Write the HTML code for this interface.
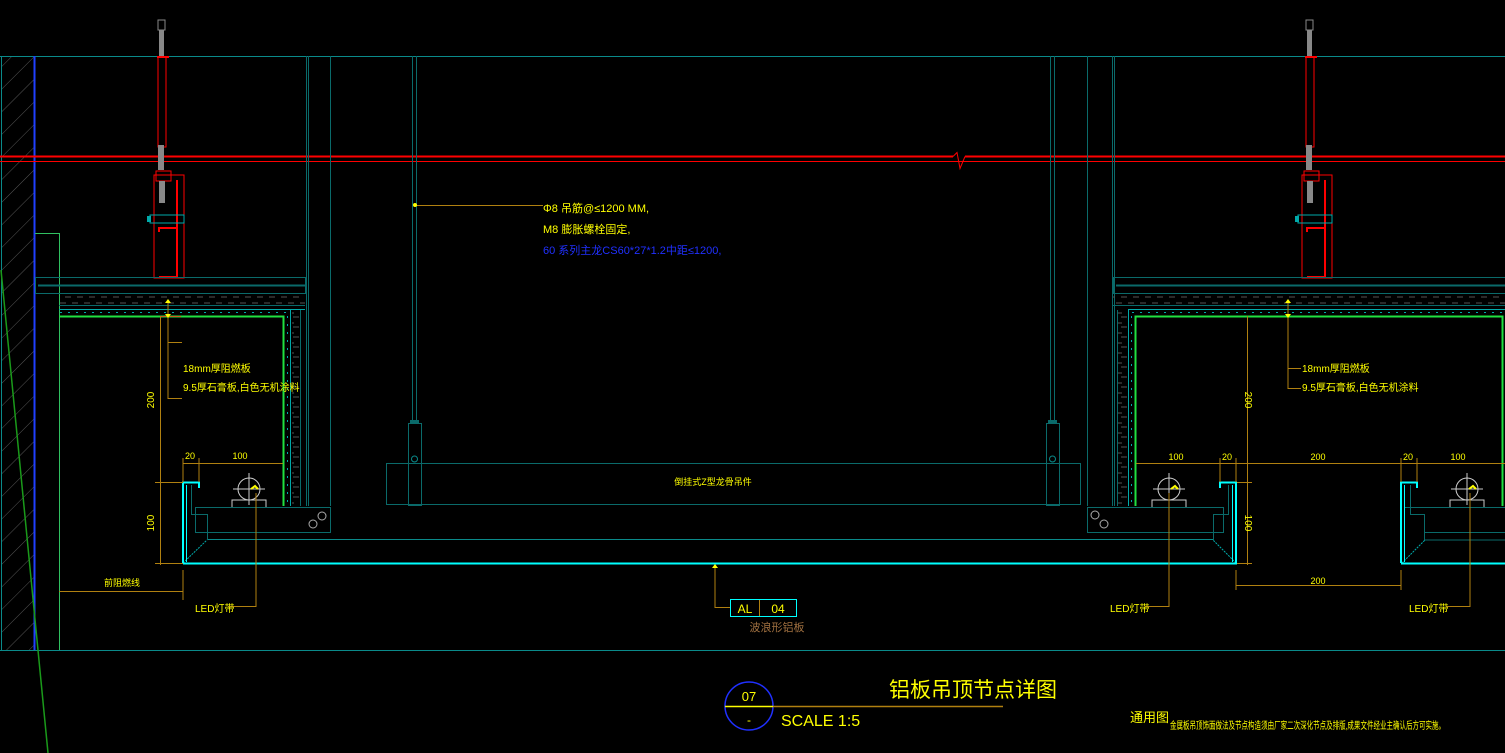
<!DOCTYPE html>
<html><head><meta charset="utf-8"><style>
html,body{margin:0;padding:0;background:#000;}
svg{display:block}
text{font-family:"Liberation Sans","Noto Sans CJK SC",sans-serif;}
</style></head><body>
<svg width="1505" height="753" viewBox="0 0 1505 753" xmlns="http://www.w3.org/2000/svg">
<defs>
<pattern id="hatch" width="16" height="16" patternUnits="userSpaceOnUse" patternTransform="rotate(45)">
<line x1="0" y1="0" x2="0" y2="16" stroke="#555" stroke-width="1"/>
</pattern>
<pattern id="lay" width="12" height="10" patternUnits="userSpaceOnUse">
<path d="M0 3 h6 M5 7 h6" stroke="#555" stroke-width="1"/>
</pattern>
<g id="hanger">
<rect x="-3" y="20" width="7" height="10" fill="none" stroke="#888"/>
<rect x="-2" y="30" width="5" height="26" fill="#888"/>
<rect x="-4" y="56" width="12" height="2" fill="#f00"/>
<rect x="-3" y="57" width="8" height="90" fill="none" stroke="#f00"/>
<rect x="-3" y="145" width="6" height="25" fill="#888"/>
<rect x="-5" y="171" width="15" height="10" fill="none" stroke="#f00"/>
<rect x="-2" y="181" width="6" height="22" fill="#888"/>
<rect x="-7" y="175" width="30" height="103" fill="none" stroke="#f00"/>
<rect x="-5" y="177" width="0" height="100" stroke="#f00"/>
<path d="M16 180 v97 h-18 M16 228 h-18 v4" fill="none" stroke="#f00" stroke-width="2"/>
<rect x="-11" y="215" width="34" height="8" fill="none" stroke="#0aa"/>
<rect x="-14" y="216" width="4" height="6" fill="#0aa"/>
</g>
<g id="lamp">
<circle cx="0" cy="0" r="11" fill="none" stroke="#ccc"/>
<path d="M-16 0 h32 M0 -16 v32" stroke="#ccc"/>
<path d="M-17 18 v-7 h34 v7" fill="none" stroke="#ccc"/>
<path d="M2 0 l4 -3 l3 3" fill="none" stroke="#ff0" stroke-width="2"/>
</g>
</defs>

<line x1="0" y1="56.5" x2="1505" y2="56.5" stroke="#0a8a8a"/>
<line x1="0" y1="650.5" x2="1505" y2="650.5" stroke="#0a8a8a"/>
<rect x="1.5" y="56.5" width="33" height="594" fill="url(#hatch)" stroke="#0a8a8a"/>
<line x1="34.5" y1="56" x2="34.5" y2="650" stroke="#2040ff" stroke-width="2"/>
<line x1="1" y1="270" x2="48" y2="753" stroke="#1a9a1a" stroke-width="1.5"/>
<path d="M35 233.5 H59.5 V650" fill="none" stroke="#30c060"/>

<line x1="0" y1="156.5" x2="953" y2="156.5" stroke="#f00" stroke-width="2"/>
<line x1="0" y1="161.5" x2="1505" y2="161.5" stroke="#f00"/>
<line x1="965" y1="156.5" x2="1505" y2="156.5" stroke="#f00" stroke-width="2"/>
<path d="M953 156.5 l4 -4 l3 16 l5 -12" fill="none" stroke="#f00"/>

<use href="#hanger" x="161" y="0"/>
<use href="#hanger" x="1309" y="0"/>

<g stroke="#0a6a6a" fill="none">
<rect x="35.5" y="277.5" width="270" height="16"/>
<line x1="38" y1="285.5" x2="305" y2="285.5" stroke-width="2"/>
<line x1="59" y1="309.5" x2="305" y2="309.5" stroke="#0aa"/>
<line x1="59" y1="305.5" x2="305" y2="305.5"/>
<line x1="306.5" y1="56" x2="306.5" y2="506"/>
<line x1="308.5" y1="56" x2="308.5" y2="506"/>
<line x1="330.5" y1="56" x2="330.5" y2="506"/>
<line x1="290.5" y1="310" x2="290.5" y2="506" stroke="#0aa"/>
<line x1="300.5" y1="310" x2="300.5" y2="506"/>
</g>
<rect x="59" y="295" width="246" height="10" fill="url(#lay)"/>
<rect x="292" y="310" width="8" height="196" fill="url(#lay)"/>
<path d="M59 316.5 H283.5 V506" fill="none" stroke="#20e040" stroke-width="2"/>
<line x1="287.5" y1="316" x2="287.5" y2="506" stroke="#0aa" stroke-dasharray="2 6"/>
<line x1="60" y1="312.5" x2="288" y2="312.5" stroke="#0aa" stroke-dasharray="2 6"/>

<g stroke="#0a6a6a" fill="none">
<rect x="1113.5" y="277.5" width="395" height="16"/>
<line x1="1116" y1="285.5" x2="1505" y2="285.5" stroke-width="2"/>
<line x1="1128" y1="309.5" x2="1505" y2="309.5" stroke="#0aa"/>
<line x1="1113" y1="305.5" x2="1505" y2="305.5"/>
<line x1="1087.5" y1="56" x2="1087.5" y2="506"/>
<line x1="1112.5" y1="56" x2="1112.5" y2="506"/>
<line x1="1114.5" y1="56" x2="1114.5" y2="506"/>
<line x1="1128.5" y1="310" x2="1128.5" y2="506" stroke="#0aa"/>
<line x1="1117.5" y1="310" x2="1117.5" y2="506"/>
</g>
<rect x="1113" y="295" width="392" height="10" fill="url(#lay)"/>
<rect x="1118" y="310" width="10" height="196" fill="url(#lay)"/>
<path d="M1135.5 506 V316.5 H1502.5 V506" fill="none" stroke="#20e040" stroke-width="2"/>
<line x1="1131.5" y1="316" x2="1131.5" y2="506" stroke="#0aa" stroke-dasharray="2 6"/>
<line x1="1132" y1="312.5" x2="1505" y2="312.5" stroke="#0aa" stroke-dasharray="2 6"/>

<g stroke="#0a6a6a" fill="none">
<line x1="412.5" y1="56" x2="412.5" y2="420"/>
<line x1="416.5" y1="56" x2="416.5" y2="420"/>
<line x1="1050.5" y1="56" x2="1050.5" y2="420"/>
<line x1="1054.5" y1="56" x2="1054.5" y2="420"/>
<rect x="408.5" y="423.5" width="13" height="82"/>
<rect x="1046.5" y="423.5" width="13" height="82"/>
<rect x="386.5" y="463.5" width="694" height="41"/>
<rect x="195.5" y="507.5" width="135" height="25"/>
<rect x="1087.5" y="507.5" width="136" height="25"/>
<line x1="207" y1="539.5" x2="1213" y2="539.5" stroke="#0a8a8a"/>
<path d="M191.5 485 V514.5 H207.5 V540" />
<path d="M1228.5 485 V514.5 H1213.5 V540" />
<path d="M1410.5 485 V514.5 H1424.5 V540 H1505" />
<path d="M199 507.5 H330 M1087 507.5 H1224 M1404 507.5 H1505 M1424 532.5 H1505"/>
</g>
<rect x="410" y="420" width="9" height="4" fill="#0a6a6a"/>
<rect x="1048" y="420" width="9" height="4" fill="#0a6a6a"/>
<circle cx="414.5" cy="459" r="3" fill="none" stroke="#0a8a8a"/>
<circle cx="1052.5" cy="459" r="3" fill="none" stroke="#0a8a8a"/>
<line x1="183" y1="563" x2="207" y2="540" stroke="#0aa" stroke-dasharray="2 1"/>
<line x1="1236" y1="563" x2="1213" y2="540" stroke="#0aa" stroke-dasharray="2 1"/>
<line x1="1402" y1="563" x2="1425" y2="540" stroke="#0aa" stroke-dasharray="2 1"/>
<g fill="none" stroke="#aaa"><circle cx="313" cy="524" r="4"/><circle cx="322" cy="516" r="4"/><circle cx="1095" cy="515" r="4"/><circle cx="1104" cy="524" r="4"/></g>

<path d="M183 563 V482.5 H199 V488 M183 563.5 H1236 V482.5 H1220 V488" fill="none" stroke="#0ff" stroke-width="2"/>
<line x1="186.5" y1="485" x2="186.5" y2="562" stroke="#0ff"/>
<line x1="1232.5" y1="485" x2="1232.5" y2="562" stroke="#0ff"/>
<path d="M1401 563 V482.5 H1417 V488 M1401 563.5 H1505" fill="none" stroke="#0ff" stroke-width="2"/>
<line x1="1404.5" y1="485" x2="1404.5" y2="562" stroke="#0ff"/>

<use href="#lamp" x="249" y="489"/>
<use href="#lamp" x="1169" y="489"/>
<use href="#lamp" x="1467" y="489"/>

<g stroke="#b08010" fill="none">
<line x1="160.5" y1="316" x2="160.5" y2="565"/>
<path d="M155 482.5 H183 M155 563.5 H183"/>
<line x1="160" y1="316.5" x2="181" y2="316.5" stroke="#d06020"/>
<path d="M168 300 V398.5 H182 M168 342.5 H182"/>
<path d="M183 458 V482 M199 458 V482 M183 463.5 H283"/>
<line x1="59" y1="591.5" x2="183" y2="591.5"/>
<line x1="183" y1="570" x2="183" y2="600"/>
<path d="M256 493 V606.5 H228"/>
<path d="M1247.5 316 V565 M1237 482.5 H1252 M1237 563.5 H1252"/>
<path d="M1288 300 V388.5 H1301 M1288 368.5 H1301"/>
<path d="M1136 463.5 H1505 M1220 458 V482 M1236 458 V482 M1401 458 V482 M1417 458 V482"/>
<path d="M1236 570 V590 M1401 570 V590 M1236 585.5 H1401"/>
<path d="M1169 493 V606.5 H1145 M1470 493 V606.5 H1446"/>
<path d="M415 205.5 H543"/>
<path d="M715 567 V607.5 H730"/>
</g>
<g fill="#ff0">
<path d="M165 303 l3 -4 l3 4z M165 314 l3 4 l3 -4z M1285 303 l3 -4 l3 4z M1285 314 l3 4 l3 -4z M712 568 l3 -4 l3 4z"/>
<circle cx="415" cy="205" r="2"/>
</g>

<g fill="#ff0" font-size="10">
<text x="183" y="372">18mm厚阻燃板</text>
<text x="183" y="391">9.5厚石膏板,白色无机涂料</text>
<text x="1302" y="372">18mm厚阻燃板</text>
<text x="1302" y="391">9.5厚石膏板,白色无机涂料</text>
<text x="154" y="400" transform="rotate(-90 154 400)" text-anchor="middle">200</text>
<text x="154" y="523" transform="rotate(-90 154 523)" text-anchor="middle">100</text>
<text x="1245" y="400" transform="rotate(90 1245 400)" text-anchor="middle">200</text>
<text x="1245" y="523" transform="rotate(90 1245 523)" text-anchor="middle">100</text>
<text x="190" y="459" font-size="9" text-anchor="middle">20</text>
<text x="240" y="459" font-size="9" text-anchor="middle">100</text>
<text x="1176" y="460" font-size="9" text-anchor="middle">100</text>
<text x="1227" y="460" font-size="9" text-anchor="middle">20</text>
<text x="1318" y="460" font-size="9" text-anchor="middle">200</text>
<text x="1408" y="460" font-size="9" text-anchor="middle">20</text>
<text x="1458" y="460" font-size="9" text-anchor="middle">100</text>
<text x="1318" y="584" font-size="9" text-anchor="middle">200</text>
<text x="122" y="586" font-size="9" text-anchor="middle">前阻燃线</text>
<text x="195" y="612">LED灯带</text>
<text x="1110" y="612">LED灯带</text>
<text x="1409" y="612">LED灯带</text>
<text x="713" y="485" font-size="9" text-anchor="middle">倒挂式Z型龙骨吊件</text>
<text x="543" y="212" font-size="11">Φ8 吊筋@≤1200 MM,</text>
<text x="543" y="233" font-size="11">M8 膨胀螺栓固定,</text>
<text x="543" y="254" font-size="11" fill="#2030ff">60 系列主龙CS60*27*1.2中距≤1200,</text>
</g>
<rect x="730.5" y="599.5" width="66" height="17" fill="none" stroke="#0ff"/>
<line x1="759.5" y1="600" x2="759.5" y2="616" stroke="#b08010"/>
<text x="745" y="613" fill="#ff0" font-size="12" text-anchor="middle">AL</text>
<text x="778" y="613" fill="#ff0" font-size="12" text-anchor="middle">04</text>
<text x="777" y="631" fill="#a07040" font-size="11" text-anchor="middle">波浪形铝板</text>

<ellipse cx="749" cy="706" rx="24" ry="24" fill="none" stroke="#2030ff" stroke-width="1.5"/>
<line x1="725" y1="706.5" x2="773" y2="706.5" stroke="#ff0" stroke-width="1.5"/>
<line x1="773" y1="706.5" x2="1003" y2="706.5" stroke="#b08010" stroke-width="1.5"/>
<text x="749" y="701" fill="#ff0" font-size="13" text-anchor="middle">07</text>
<text x="749" y="724" fill="#ff0" font-size="12" text-anchor="middle">-</text>
<text x="781" y="726" fill="#ff0" font-size="16">SCALE 1:5</text>
<text x="973" y="697" fill="#ff0" font-size="21" text-anchor="middle">铝板吊顶节点详图</text>
<text x="1130" y="722" fill="#ff0" font-size="13">通用图</text>
<text x="1170" y="729" fill="#ff0" font-size="10" textLength="275" lengthAdjust="spacingAndGlyphs">金属板吊顶饰面做法及节点构造须由厂家二次深化节点及排版,成果文件经业主确认后方可实施。</text>
</svg>
</body></html>
